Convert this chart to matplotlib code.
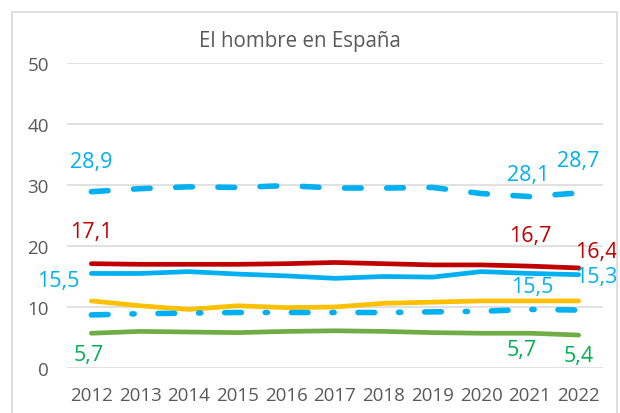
import matplotlib
matplotlib.use('Agg')
import matplotlib.pyplot as plt
from matplotlib.patches import Rectangle

plt.rcParams['font.family'] = ['Open Sans', 'DejaVu Sans']

# Data
years = ['2012', '2013', '2014', '2015', '2016', '2017', '2018', '2019', '2020', '2021', '2022']
top_dashed = [28.9, 29.4, 29.7, 29.6, 29.9, 29.5, 29.5, 29.6, 28.6, 28.1, 28.7]
red = [17.1, 17.0, 17.0, 17.0, 17.1, 17.3, 17.1, 16.9, 16.9, 16.7, 16.4]
blue = [15.5, 15.5, 15.8, 15.4, 15.1, 14.7, 15.0, 14.9, 15.8, 15.5, 15.3]
yellow = [11.0, 10.2, 9.6, 10.2, 9.9, 10.0, 10.6, 10.8, 11.0, 11.0, 11.0]
blue_dashdot = [8.7, 8.9, 9.0, 9.1, 9.1, 9.1, 9.1, 9.2, 9.3, 9.6, 9.5]
green = [5.7, 6.0, 5.9, 5.8, 6.0, 6.1, 6.0, 5.8, 5.7, 5.7, 5.4]

title = 'El hombre en España'

RED = '#C00000'
BLUE = '#00B0F0'
YELLOW = '#FFC000'
GREEN = '#70AD47'
GREEN_TXT = '#00B050'
GRAY = '#595959'

fig = plt.figure(figsize=(6.2, 4.14), dpi=100)
ax = fig.add_axes([67 / 620, 45 / 414, 536 / 620, 305 / 414])

x = list(range(len(years)))

# solid lines
ax.plot(x, red, color=RED, lw=3.4, solid_capstyle='round', zorder=4)
ax.plot(x, blue, color=BLUE, lw=3.4, solid_capstyle='round', zorder=4)
ax.plot(x, yellow, color=YELLOW, lw=3.4, solid_capstyle='round', zorder=3)
ax.plot(x, green, color=GREEN, lw=3.4, solid_capstyle='round', zorder=3)

# dashed ones
l1, = ax.plot(x, top_dashed, color=BLUE, lw=4.0, dash_capstyle='round', zorder=4)
l1.set_dashes((3.0, 4.6))
l2, = ax.plot(x, blue_dashdot, color=BLUE, lw=4.0, dash_capstyle='round', zorder=4)
l2.set_dashes((3.0, 4.3, 0.4, 4.3))

ax.set_xlim(-0.5, len(years) - 0.5)
ax.set_ylim(0, 50)
ax.set_yticks([0, 10, 20, 30, 40, 50])
ax.set_xticks(x)
ax.set_xticklabels(years)
ax.grid(axis='y', color='#D9D9D9', lw=1.1)
ax.set_axisbelow(True)
for s in ax.spines.values():
    s.set_visible(False)
ax.tick_params(axis='both', length=0, colors=GRAY, labelsize=13.5)
ax.tick_params(axis='y', pad=13)
ax.tick_params(axis='x', pad=13)


def fmt(v):
    return f'{v:.1f}'.replace('.', ',')


def label(series, i, dx, dy, color):
    ax.annotate(fmt(series[i]), xy=(i, series[i]), xytext=(dx, dy),
                textcoords='offset points', ha='center', va='center',
                color=color, fontsize=15.5, zorder=6)


label(top_dashed, 0, 0, 22, BLUE)
label(top_dashed, 9, -1, 16, BLUE)
label(top_dashed, 10, 0, 23, BLUE)
label(red, 0, 0, 23.5, RED)
label(red, 9, 0, 22, RED)
label(red, 10, 13, 11.5, RED)
label(blue, 0, -24, -5.4, BLUE)
label(blue, 9, 2, -9.7, BLUE)
label(blue, 10, 13, -1, BLUE)
label(green, 0, -2, -15, GREEN_TXT)
label(green, 9, -6, -11.5, GREEN_TXT)
label(green, 10, 0, -15, GREEN_TXT)

fig.text(300 / 620, 1 - 41 / 414, title, ha='center', va='center',
         color=GRAY, fontsize=14.8)

# chart border
fig.patches.append(Rectangle((12 / 620, -0.05), 605 / 620, 1.05 - 13 / 414,
                             transform=fig.transFigure, fill=False,
                             edgecolor='#D9D9D9', lw=1.2))

fig.savefig('out.png', dpi=100)
